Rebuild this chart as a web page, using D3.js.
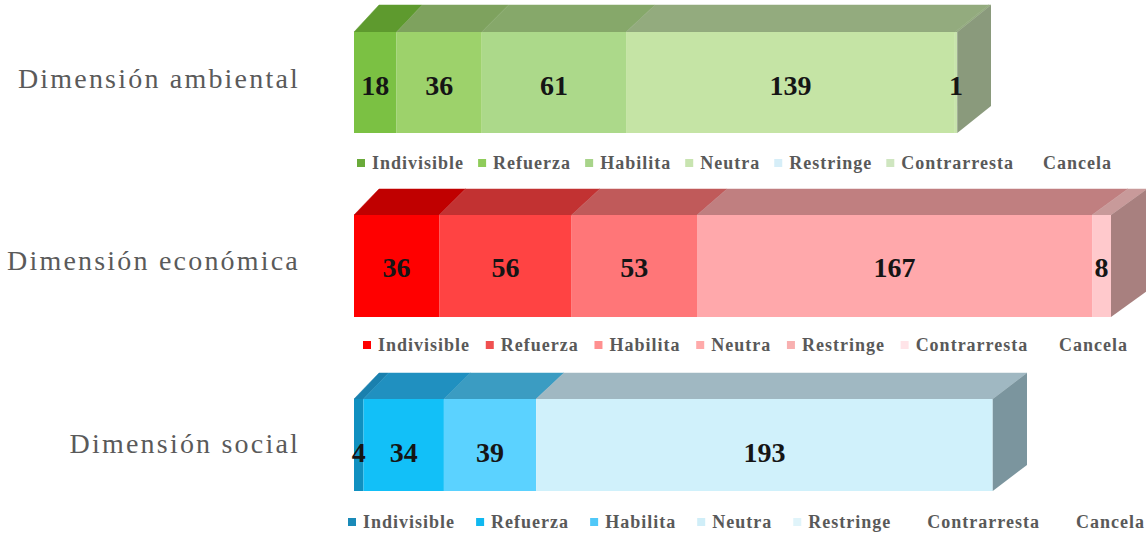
<!DOCTYPE html>
<html>
<head>
<meta charset="utf-8">
<script src="https://cdn.jsdelivr.net/npm/d3@7"></script>
<style>
  html, body { margin: 0; padding: 0; background: #ffffff; }
  svg { display: block; }
</style>
</head>
<body>
<svg id="chart" width="1146" height="536"></svg>
<script>
// ---- Data ----
const categories = ["Indivisible", "Refuerza", "Habilita", "Neutra", "Restringe", "Contrarresta", "Cancela"];
const dimensions = ["Dimensión ambiental", "Dimensión económica", "Dimensión social"];
const ambiental = [18, 36, 61, 139, 0, 1, 0];
const economica = [36, 56, 53, 167, 8, 0, 0];
const social = [4, 34, 39, 193, 0, 0, 0];
const seriesValues = [ambiental, economica, social];

// ---- Styles (colours per dimension) ----
const frontColors = [
  ["#7bc143", "#9dd26b", "#acd98a", "#c5e4a5", "#d6eef8", "#c8e4ad", "#ffffff"],
  ["#ff0000", "#ff4343", "#ff7678", "#ffa8ab", "#ffc9cc", "#ffe4e8", "#ffffff"],
  ["#1090c0", "#12c0f8", "#5bd2ff", "#d0f1fb", "#e0f5fb", "#ffffff", "#ffffff"]
];
const topColors = [
  ["#5e9a2e", "#7ea25e", "#86a86a", "#93ab7e", "#a0b0a8", "#93ab7e", "#ffffff"],
  ["#c00000", "#c23232", "#c05a5a", "#c07f80", "#c89a9a", "#c8a0a0", "#ffffff"],
  ["#1a80ae", "#2090c0", "#3b9cc2", "#a0b8c2", "#a8bec6", "#ffffff", "#ffffff"]
];
const legendColors = [
  ["#6aaa3a", "#8fcc5a", "#a8d48a", "#c8e4b0", "#d6eef8", "#cfe6c0", "#ffffff"],
  ["#ff0000", "#f05050", "#ff9090", "#ffaaaa", "#f8b0b0", "#ffe4e8", "#ffffff"],
  ["#1a8ab8", "#10b8f0", "#50c8f8", "#d0eef8", "#e0f4fa", "#ffffff", "#ffffff"]
];
const sideColors = ["#8a9a7c", "#a8807f", "#7b959e"];

// ---- Layout ----
const rows = [
  { top: 32, height: 101, dy: 27, labelY: 88, numY: 85, legY: 163, legX0: 357, legX1: 1112 },
  { top: 215, height: 102, dy: 26, labelY: 270, numY: 267, legY: 345, legX0: 363, legX1: 1128 },
  { top: 399, height: 92, dy: 26, labelY: 453, numY: 452, legY: 522, legX0: 348, legX1: 1145 }
];

const svg = d3.select("#chart");
const x = d3.scaleLinear().domain([0, 320]).range([354, 1111]);
// perspective depth offset grows slightly to the right
const depthX = d3.scaleLinear().domain([354, 1111]).range([25, 36]);

seriesValues.forEach((vals, r) => {
  const row = rows[r];
  const g = svg.append("g");
  let cum = 0;
  const segs = vals.map((v, i) => {
    const s = { v, i, x0: x(cum), x1: x(cum + v) };
    cum += v;
    return s;
  }).filter(s => s.v > 0);

  const top = row.top, bottom = row.top + row.height, dy = row.dy;

  // top faces
  g.selectAll("polygon.top").data(segs).enter().append("polygon")
    .attr("class", "top")
    .attr("points", d => [
      [d.x0, top], [d.x1, top],
      [d.x1 + depthX(d.x1), top - dy], [d.x0 + depthX(d.x0), top - dy]
    ].map(p => p.join(",")).join(" "))
    .attr("fill", d => topColors[r][d.i])
    .attr("stroke", d => topColors[r][d.i]).attr("stroke-width", 0.5);

  // front faces
  g.selectAll("rect.front").data(segs).enter().append("rect")
    .attr("class", "front")
    .attr("x", d => d.x0).attr("y", top)
    .attr("width", d => d.x1 - d.x0).attr("height", row.height)
    .attr("fill", d => frontColors[r][d.i]);

  // right side face
  const xe = x(cum);
  const de = depthX(xe);
  g.append("polygon")
    .attr("points", [[xe, top], [xe + de, top - dy], [xe + de, bottom - dy], [xe, bottom]]
      .map(p => p.join(",")).join(" "))
    .attr("fill", sideColors[r]);

  // value labels
  g.selectAll("text.val").data(segs).enter().append("text")
    .attr("class", "val")
    .attr("x", d => (d.x0 + d.x1) / 2)
    .attr("y", row.numY)
    .attr("text-anchor", "middle")
    .attr("dominant-baseline", "central")
    .attr("font-family", "'Liberation Serif', 'Times New Roman', serif")
    .attr("font-weight", "bold")
    .attr("font-size", 28)
    .attr("fill", "#151515")
    .text(d => d.v);

  // dimension label
  svg.append("text")
    .attr("x", 300).attr("y", row.labelY)
    .attr("text-anchor", "end")
    .attr("font-family", "'Liberation Serif', 'Times New Roman', serif")
    .attr("font-size", 28)
    .attr("letter-spacing", 2.2)
    .attr("fill", "#5a5a5a")
    .text(dimensions[r]);

  // legend
  const lg = svg.append("g");
  const items = categories.map((c, i) => {
    const t = lg.append("text")
      .attr("font-family", "'Liberation Serif', 'Times New Roman', serif")
      .attr("font-weight", "bold")
      .attr("font-size", 18)
      .attr("letter-spacing", 1)
      .attr("fill", "#595959")
      .attr("dominant-baseline", "central")
      .attr("y", row.legY)
      .text(c);
    return { c, i, t, w: t.node().getComputedTextLength() };
  });
  const markerW = 8, gap = 7;
  const totalW = d3.sum(items, d => markerW + gap + d.w);
  const spacing = (row.legX1 - row.legX0 - totalW) / (items.length - 1);
  let cx = row.legX0;
  items.forEach(d => {
    lg.append("rect")
      .attr("x", cx).attr("y", row.legY - 4)
      .attr("width", markerW).attr("height", markerW)
      .attr("fill", legendColors[r][d.i]);
    d.t.attr("x", cx + markerW + gap);
    cx += markerW + gap + d.w + spacing;
  });
});
</script>
</body>
</html>
